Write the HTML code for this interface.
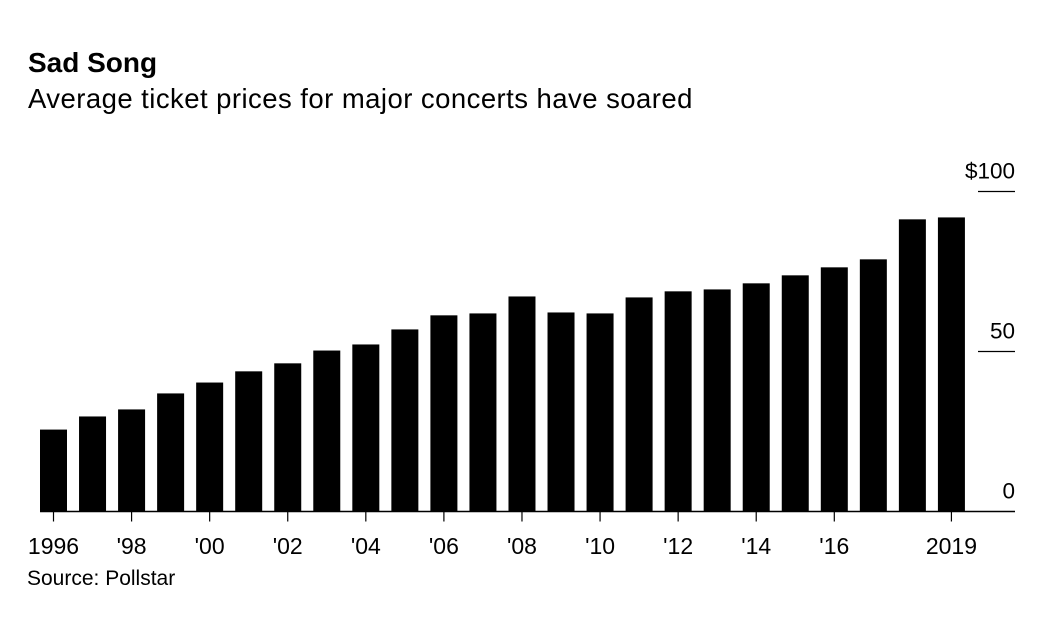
<!DOCTYPE html>
<html><head><meta charset="utf-8"><style>
body{margin:0;background:#fff;font-family:"Liberation Sans",sans-serif;}
.t{position:absolute;left:28px;top:47px;font-size:28px;font-weight:bold;color:#000;}
.s{position:absolute;left:28px;top:83px;font-size:27.5px;letter-spacing:0.45px;color:#000;}
</style></head><body>
<div class="t">Sad Song</div>
<div class="s">Average ticket prices for major concerts have soared</div>
<svg id="c" width="1058" height="628" style="position:absolute;left:0;top:0"></svg>
<script>
const years=[1996,1997,1998,1999,2000,2001,2002,2003,2004,2005,2006,2007,2008,2009,2010,2011,2012,2013,2014,2015,2016,2017,2018,2019];
const prices=[25.6,29.7,31.9,36.9,40.3,43.8,46.3,50.3,52.2,56.9,61.3,61.9,67.2,62.2,61.9,66.9,68.8,69.4,71.3,73.8,76.3,78.8,91.3,91.9];
const yTicks=[0,50,100];
const yTickLabels=["0","50","$100"];
const xLabelYears=[1996,1998,2000,2002,2004,2006,2008,2010,2012,2014,2016,2019];
const ns="http://www.w3.org/2000/svg",svg=document.getElementById('c');
const y0=511.5,pxPer=3.2,x0=40,step=39.04,bw=27;
const ys=v=>y0-v*pxPer, xs=yr=>x0+(yr-years[0])*step;
function el(t,a){const e=document.createElementNS(ns,t);for(const k in a)e.setAttribute(k,a[k]);svg.appendChild(e);return e;}
years.forEach((yr,i)=>{const r=el('rect',{x:xs(yr),y:ys(prices[i]),width:bw,height:y0-ys(prices[i]),fill:'#000'});

});
yTicks.forEach((v,i)=>{if(v>0){const l=el('line',{x1:978,x2:1015,y1:ys(v),y2:ys(v),stroke:'#000','stroke-width':1.2});

}
const t=el('text',{x:1015,y:ys(v)-13,'text-anchor':'end','font-size':22.5,fill:'#000'});t.textContent=yTickLabels[i];

});
const ax=el('line',{x1:40,x2:1015,y1:y0,y2:y0,stroke:'#000','stroke-width':1.5});


xLabelYears.forEach(yr=>{const cx=xs(yr)+bw/2;
const tk=el('line',{x1:cx,x2:cx,y1:y0,y2:y0+10,stroke:'#000','stroke-width':1.2});


const t=el('text',{x:cx,y:554,'text-anchor':'middle','font-size':23,fill:'#000'});
t.textContent=(yr===1996||yr===2019)?String(yr):"'"+String(yr).slice(2);

});
const src=el('text',{x:27,y:585,'font-size':21,fill:'#000'});src.textContent='Source: Pollstar';


</script>
</body></html>
